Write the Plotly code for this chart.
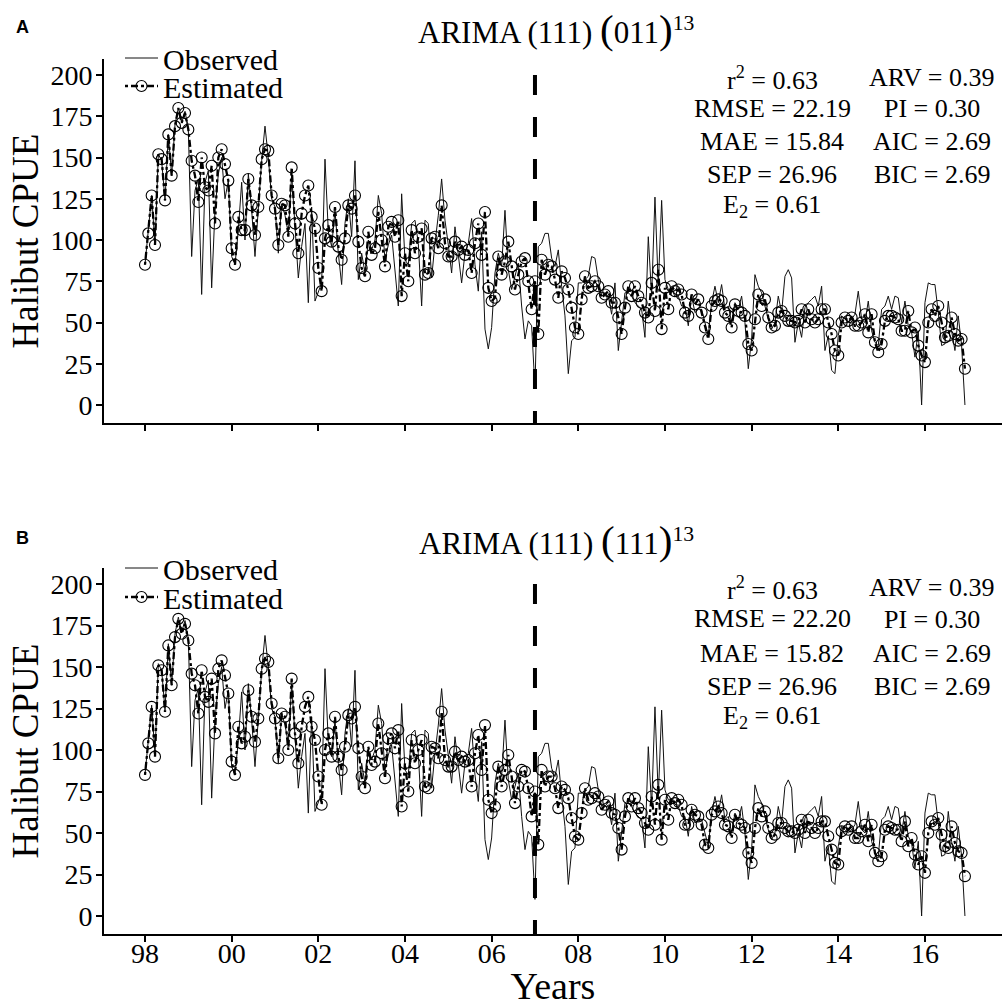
import plotly.graph_objects as go

W, H = 1002, 1007
SERIF = "Liberation Serif"

years_per = 13
observed = [85,104,127,97,152,148,124,164,139,170,180,171,178,167,90,130,137,67,135,142,71,118,140,150,125,136,90,85,106,135,100,140,118,90,122,148,169,150,125,120,92,122,115,104,140,108,77,96,110,62,120,63,68,74,149,
105,96,118,92,73,110,125,102,148,76,92,80,100,94,100,127,116,88,97,103,82,60,128,88,85,110,112,98,60,112,110,77,98,115,137,112,97,80,108,92,74,92,98,113,85,69,105,46,34,47,80,92,84,118,82,70,78,86,60,40,51,48,10,96,98,104,104,89,84,94,72,54,19,39,41,74,74,76,78,90,89,76,66,68,66,55,74,33,51,68,68,66,62,60,58,41,102,66,126,72,124,76,70,70,66,66,60,60,48,66,56,58,58,50,42,62,72,62,73,58,60,50,62,58,66,50,22,40,79,72,68,60,52,46,50,66,56,78,82,77,38,50,41,59,62,64,66,60,72,33,42,21,19,42,54,52,50,52,55,69,52,50,63,45,38,36,58,60,66,58,66,65,50,63,48,44,29,45,0,62,74,73,73,56,36,37,63,45,33,54,36,0]

estimated_a = [85,104,127,97,152,149,124,164,139,169,180,171,177,167,148,139,123,150,132,130,145,110,150,155,146,136,95,85,114,106,106,137,121,103,120,149,155,154,127,119,97,122,121,102,144,110,92,116,127,133,114,107,83,69,101,109,99,120,96,88,101,121,119,127,99,83,78,105,91,95,117,100,84,108,111,102,112,66,92,75,106,92,102,107,79,80,101,102,95,121,98,90,90,99,94,96,91,94,80,98,110,91,117,71,63,65,90,79,87,99,84,70,79,87,89,75,58,75,43,88,79,85,84,76,65,81,77,70,59,47,43,64,78,71,72,75,72,65,67,69,62,62,53,43,59,72,66,72,66,62,56,53,74,57,82,46,71,58,72,69,70,67,56,54,67,61,64,56,47,40,60,63,64,63,56,54,47,61,57,56,54,37,33,52,67,60,64,53,47,48,56,57,54,51,51,50,51,58,50,58,52,50,52,58,58,50,43,33,30,50,53,51,53,48,48,50,55,44,55,38,32,37,51,54,54,53,52,45,45,57,44,47,36,30,26,50,58,54,60,50,41,42,53,43,39,40,22]

estimated_b = [85,104,126,96,151,148,123,163,139,168,179,170,176,166,146,139,122,148,132,129,143,110,149,154,145,134,93,85,114,104,108,136,120,105,119,149,155,153,128,119,95,122,120,100,143,110,92,114,126,132,114,106,84,67,100,110,96,120,96,88,102,121,119,126,101,84,77,102,91,93,116,98,83,107,110,101,112,66,92,75,106,92,100,106,78,77,102,101,95,123,94,90,90,99,94,96,93,94,78,98,109,88,115,70,62,66,90,78,88,97,84,68,78,88,87,77,60,75,43,88,78,84,84,77,65,78,76,71,59,48,46,62,77,70,71,74,72,64,67,69,62,61,53,40,60,71,66,71,65,62,56,52,72,55,79,46,70,58,71,68,70,67,55,55,64,61,60,55,43,41,61,63,66,62,55,54,47,61,56,55,53,38,32,53,65,60,63,53,47,49,56,56,53,51,51,50,52,58,50,58,53,50,53,57,57,48,40,32,31,51,54,52,54,47,47,51,55,45,55,38,33,36,52,54,53,52,52,45,57,42,47,37,31,36,26,50,57,55,59,49,42,41,54,44,39,38,24]

x_years = [1998 + i / years_per for i in range(len(observed))]
tick_years = [1998,2000,2002,2004,2006,2008,2010,2012,2014,2016]
tick_text = ["98","00","02","04","06","08","10","12","14","16"]
y_ticks = [0,25,50,75,100,125,150,175,200]

stats_a = [["r<sup>2</sup> = 0.63","RMSE = 22.19","MAE = 15.84","SEP = 26.96","E<sub>2</sub> = 0.61"],
           ["ARV = 0.39","PI = 0.30","AIC = 2.69","BIC = 2.69"]]
stats_b = [["r<sup>2</sup> = 0.63","RMSE = 22.20","MAE = 15.82","SEP = 26.96","E<sub>2</sub> = 0.61"],
           ["ARV = 0.39","PI = 0.30","AIC = 2.69","BIC = 2.69"]]
split_year = 2007

def px(x): return x / W
def py(y): return 1 - y / H

P = [dict(top=59, bottom=423, zero=405, scale=1.65),
     dict(top=568, bottom=934, zero=916, scale=1.66)]
X0, X1 = 104, 1002
PX_YR = 43.33
xrange_ = [1998 - (145 - X0) / PX_YR, 1998 + (X1 - 145) / PX_YR]

fig = go.Figure()
for k, (est, xa, ya) in enumerate([(estimated_a, "x", "y"), (estimated_b, "x2", "y2")]):
    lg1 = "legend" if k == 0 else "legend3"
    lg2 = "legend2" if k == 0 else "legend4"
    fig.add_trace(go.Scatter(x=x_years, y=observed, mode="lines", name="Observed", xaxis=xa, yaxis=ya, showlegend=True,
                             legend=lg1, line=dict(color="#111", width=1)))
    fig.add_trace(go.Scatter(x=x_years, y=est, mode="lines+markers", name="Estimated", xaxis=xa, yaxis=ya, showlegend=True,
                             legend=lg2, line=dict(color="black", width=2.3, dash="3px,3px,7px,3px"),
                             marker=dict(symbol="circle-open", size=11, color="black", line=dict(width=1.1, color="black"))))

axfont = dict(family=SERIF, size=28, color="black")
layout = dict(width=W, height=H, margin=dict(l=0, r=0, t=0, b=0), paper_bgcolor="white", plot_bgcolor="white",
              font=dict(family=SERIF, color="black"), shapes=[], annotations=[], showlegend=True)
for k, p in enumerate(P):
    s = "" if k == 0 else "2"
    layout["xaxis" + s] = dict(domain=[px(X0), 1], range=xrange_, anchor="y" + s, showgrid=False, zeroline=False,
                               tickmode="array", tickvals=tick_years, ticktext=tick_text if k == 1 else [""] * len(tick_years),
                               ticks="outside", ticklen=6, tickwidth=1.5, tickcolor="black", ticklabelstandoff=-13,
                               showline=True, linecolor="black", linewidth=2, tickfont=axfont,
                               title=dict(text="Years" if k == 1 else "", font=dict(family=SERIF, size=38, color="black"), standoff=10))
    yr = [(p["zero"] - p["bottom"]) / p["scale"], (p["zero"] - p["top"]) / p["scale"]]
    layout["yaxis" + s] = dict(domain=[py(p["bottom"]), py(p["top"])], range=yr, anchor="x" + s, showgrid=False, zeroline=False,
                               tickmode="array", tickvals=y_ticks, ticks="outside", ticklen=6, tickwidth=1.5, tickcolor="black",
                               ticklabelstandoff=-2,
                               showline=True, linecolor="black", linewidth=2, tickfont=axfont,
                               title=dict(text="Halibut CPUE", font=dict(family=SERIF, size=37, color="black"), standoff=0))
    layout["shapes"].append(dict(type="line", xref="x" + s, yref="y" + s, x0=split_year, x1=split_year,
                                 y0=200, y1=yr[0], line=dict(color="black", width=4, dash="20px,22px")))

def note(x, y, text, size=26, family=SERIF, anchor="center"):
    layout["annotations"].append(dict(x=px(x), y=py(y), xref="paper", yref="paper", text=text, showarrow=False,
                                      xanchor=anchor, yanchor="middle", font=dict(family=family, size=size, color="black")))

big = "<span style='font-size:41px'>%s</span>"
note(556, 29, "ARIMA (111) " + big % "(" + "011" + big % ")" + "<sup>13</sup>", size=31)
note(556, 540, "ARIMA (111) " + big % "(" + "111" + big % ")" + "<sup>13</sup>", size=31)
note(22, 27, "<b>A</b>", size=18, family="Liberation Sans")
note(22, 538, "<b>B</b>", size=18, family="Liberation Sans")

rows_l = [[78, 108, 141, 174, 206], [588, 618, 653, 686, 717]]
rows_r = [[77, 108, 141, 174], [587, 619, 653, 686]]
for stats, rl, rr in zip([stats_a, stats_b], rows_l, rows_r):
    for t, y in zip(stats[0], rl):
        note(772, y, t)
    for t, y in zip(stats[1], rr):
        note(932, y, t)

for name, y in [("legend", 58), ("legend2", 86), ("legend3", 568), ("legend4", 597)]:
    layout[name] = dict(x=px(120), y=py(y), xanchor="left", yanchor="middle", bgcolor="rgba(0,0,0,0)", borderwidth=0,
                        font=dict(family=SERIF, size=30, color="black"), itemwidth=33)

fig.update_layout(**layout)
fig.write_html("out.html", post_script="document.body.style.margin='0';", config=dict(displayModeBar=False))
